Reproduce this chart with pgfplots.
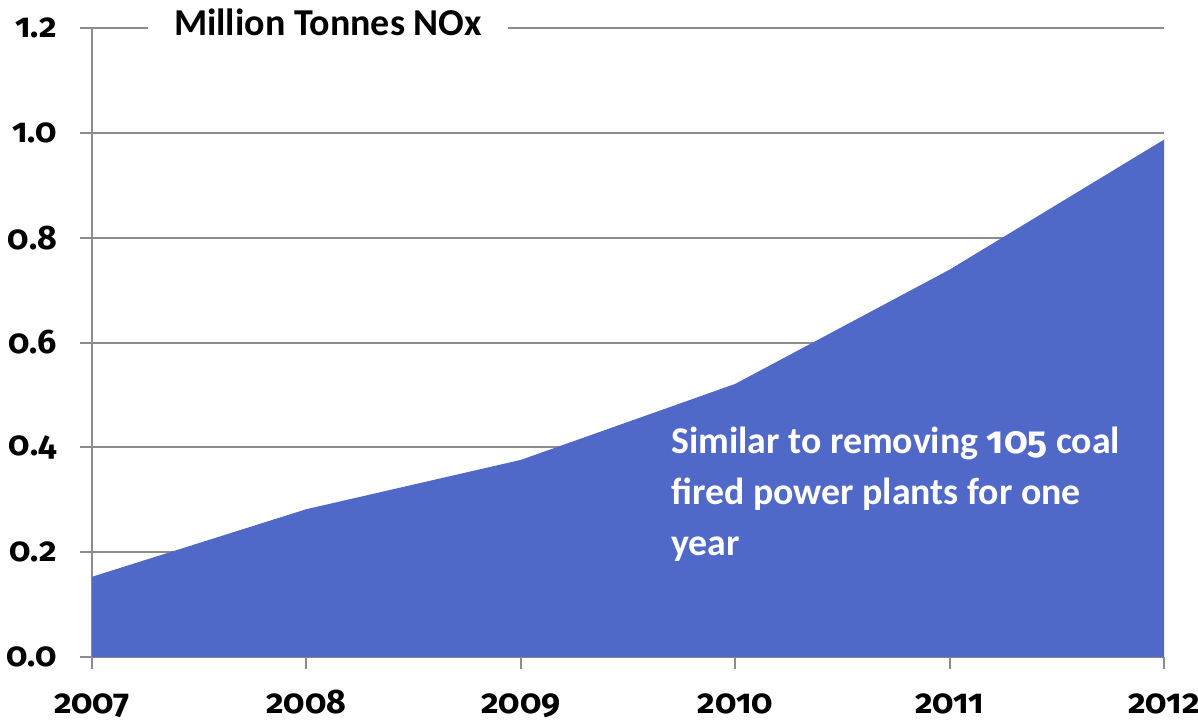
\documentclass[border=0pt]{standalone}
\usepackage{fontspec}
\setmainfont{Carlito}
\newfontfamily\numfont{Fira Sans}[Numbers=OldStyle]
\usepackage{pgfplots}
\pgfplotsset{compat=1.18}
\usetikzlibrary{calc}
\definecolor{areablue}{RGB}{80,104,200}
\definecolor{gridgray}{RGB}{140,140,140}
\begin{document}
\begin{tikzpicture}
\begin{axis}[name=ax, scale only axis, width=536pt, height=314.5pt,
  xmin=2007, xmax=2012, ymin=0, ymax=1.2,
  xtick={2007,2008,2009,2010,2011,2012},
  xticklabels={2007,2008,2009,2010,2011,2012},
  ytick={0,0.2,0.4,0.6,0.8,1.0,1.2},
  yticklabels={0.0,0.2,0.4,0.6,0.8,1.0,1.2},
  ticklabel style={font=\numfont\bfseries\fontsize{17}{17}\selectfont},
  xticklabel style={anchor=base, yshift=-22pt},
  yticklabel style={anchor=east, xshift=-8pt},
  axis x line*=bottom, axis y line*=left,
  axis line style={gridgray, line width=1pt, -},
  ymajorgrids, major grid style={gridgray, line width=1pt},
  tick style={gridgray, line width=1pt}, tick align=outside, major tick length=6pt,
  clip=false,
]
\addplot[fill=areablue, draw=none] coordinates {
  (2007,0.153) (2008,0.282) (2009,0.376) (2010,0.521) (2011,0.739) (2012,0.987)
} \closedcycle;
\node[fill=white, inner xsep=13pt, inner ysep=1pt, anchor=base,
  font=\bfseries\fontsize{19}{19}\selectfont, yshift=-4pt]
  at (axis cs:2008.1,1.2) {Million Tonnes NOx};
\node[anchor=base west, text=white, align=left, inner sep=0pt,
  font=\bfseries\fontsize{18.9}{25.5}\selectfont]
  at (axis cs:2009.70,0.193) {Similar to removing {\numfont 105} coal\\fired power plants for one\\year};
\end{axis}
\pgfresetboundingbox
\path[use as bounding box] ($(ax.south west)+(-46pt,-33pt)$) rectangle ($(ax.north east)+(17pt,14pt)$);
\end{tikzpicture}
\end{document}
